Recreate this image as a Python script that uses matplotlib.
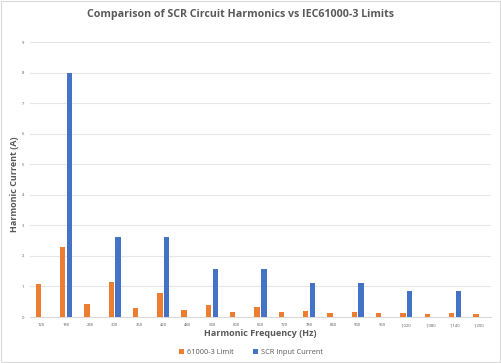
import numpy as np
import matplotlib
matplotlib.use("Agg")
import matplotlib.pyplot as plt
from matplotlib.patches import Rectangle

# harmonic frequencies (Hz) and currents (A)
freqs = ["120", "180", "240", "300", "360", "420", "480", "540", "600", "660",
         "720", "780", "840", "900", "960", "1,020", "1,080", "1,140", "1,200"]
limit = [1.08, 2.30, 0.43, 1.14, 0.30, 0.77, 0.23, 0.40, 0.18, 0.33,
         0.15, 0.21, 0.13, 0.15, 0.12, 0.13, 0.10, 0.12, 0.09]
scr = [0, 8.0, 0, 2.63, 0, 2.63, 0, 1.57, 0, 1.57,
       0, 1.11, 0, 1.11, 0, 0.86, 0, 0.86, 0]

orange = "#ED7D31"
blue = "#4472C4"
gray = "#595959"

plt.rcParams['font.family'] = ['Open Sans', 'DejaVu Sans']

fig = plt.figure(figsize=(5.02, 3.63), dpi=100)
ax = fig.add_axes([0.0588, 0.1267, 0.9202, 0.7573])

x = np.arange(len(freqs))
w = 0.22
ax.bar(x - 0.14, limit, w, color=orange, label="61000-3 Limit", zorder=3)
ax.bar(x + 0.14, scr, w, color=blue, label="SCR Input Current", zorder=3)

ax.set_xlim(-0.5, len(freqs) - 0.5)
ax.set_ylim(0, 9)
ax.set_yticks(range(10))
ax.set_xticks(x)
ax.set_xticklabels(freqs)
ax.tick_params(axis='both', length=0, labelsize=3, labelcolor=gray, pad=4)
ax.grid(axis='y', color="#E6E6E6", linewidth=0.8, zorder=0)
for s in ['top', 'right', 'left']:
    ax.spines[s].set_visible(False)
ax.spines['bottom'].set_color("#D9D9D9")

fig.text(0.48, 0.961, "Comparison of SCR Circuit Harmonics vs IEC61000-3 Limits",
         ha='center', va='center', fontsize=7.7, fontweight='bold', color=gray)
fig.text(0.518, 0.08, "Harmonic Frequency (Hz)", ha='center', va='center',
         fontsize=6.5, fontweight='bold', color=gray)
fig.text(0.028, 0.493, "Harmonic Current (A)", ha='center', va='center',
         rotation=90, fontsize=6.5, fontweight='bold', color=gray)

fig.legend(loc='center', bbox_to_anchor=(0.5, 0.028), ncol=2, frameon=False,
           fontsize=5.3, labelcolor=gray, handlelength=0.7, handleheight=0.7,
           handletextpad=0.4, columnspacing=2.5)

fig.patches.append(Rectangle((0.002, 0.003), 0.994, 0.994, transform=fig.transFigure,
                             fill=False, edgecolor="#D9D9D9", linewidth=0.8))

fig.savefig("out.png", dpi=100)
